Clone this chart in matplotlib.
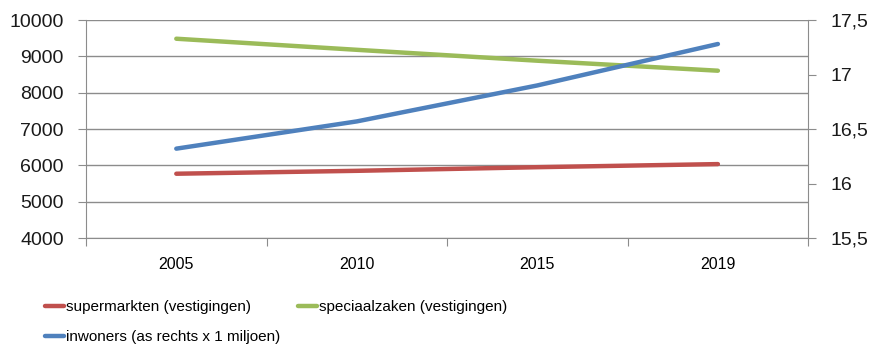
import matplotlib
matplotlib.use("Agg")
import matplotlib.pyplot as plt
from matplotlib.ticker import FuncFormatter, MultipleLocator

# data
jaren = ["2005", "2010", "2015", "2019"]
supermarkten = [5770, 5850, 5950, 6035]
speciaalzaken = [9485, 9180, 8880, 8605]
inwoners = [16.32, 16.57, 16.90, 17.28]

red = "#C0504D"
green = "#9BBB59"
blue = "#4F81BD"
grid_c = "#8C8C8C"

plt.rcParams["font.family"] = ["Liberation Sans", "DejaVu Sans"]

fig = plt.figure(figsize=(8.69, 3.45), dpi=100)
ax = fig.add_axes([0.099, 0.310, 0.831, 0.632])
ax2 = ax.twinx()

x = range(len(jaren))
l1, = ax.plot(x, supermarkten, color=red, lw=3.2, solid_capstyle="round")
l2, = ax.plot(x, speciaalzaken, color=green, lw=3.2, solid_capstyle="round")
l3, = ax2.plot(x, inwoners, color=blue, lw=3.2, solid_capstyle="round")

ax.set_xlim(-0.5, len(jaren) - 0.5)
ax.set_ylim(4000, 10000)
ax.yaxis.set_major_locator(MultipleLocator(1000))
ax2.set_ylim(15.5, 17.5)
ax2.yaxis.set_major_locator(MultipleLocator(0.5))
ax2.yaxis.set_major_formatter(FuncFormatter(lambda v, p: ("%g" % v).replace(".", ",")))

ax.grid(axis="y", color=grid_c, lw=1)
ax.set_axisbelow(True)

for a in (ax, ax2):
    a.spines["top"].set_visible(False)
    for s in ("left", "right", "bottom"):
        a.spines[s].set_color(grid_c)
ax.spines["right"].set_visible(False)
ax2.spines["left"].set_visible(False)
ax2.spines["bottom"].set_visible(False)

ax.set_xticks([i - 0.5 for i in range(len(jaren) + 1)])
ax.set_xticklabels([])
ax.set_xticks(list(x), minor=True)
ax.set_xticklabels(jaren, minor=True, fontsize=11.5)
ax.tick_params(axis="x", which="major", length=6, color=grid_c, direction="out")
ax.tick_params(axis="x", which="minor", length=0, pad=14)
ax.tick_params(axis="y", length=6, color=grid_c, labelsize=14, pad=10, labelcolor="#1a1a1a")
ax2.tick_params(axis="y", length=6, color=grid_c, labelsize=14, pad=10, labelcolor="#1a1a1a")

fig.legend([l1, l3, l2],
           ["supermarkten (vestigingen)", "inwoners (as rechts x 1 miljoen)", "speciaalzaken (vestigingen)"],
           ncol=2, loc="upper left", bbox_to_anchor=(0.052, 0.13), frameon=False,
           handlelength=1.25, handletextpad=0.1, columnspacing=1.2, labelspacing=1.05,
           borderaxespad=0, borderpad=0, prop={"size": 11})

fig.savefig("out.png", dpi=100)
